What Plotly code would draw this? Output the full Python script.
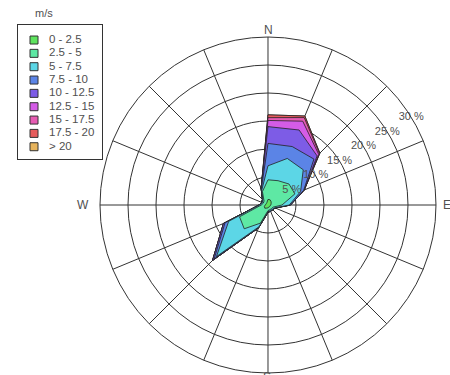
import numpy as np
import plotly.graph_objects as go

# Wind rose: frequency (%) of wind per direction sector, split by speed class (m/s)
DIRECTIONS = ["N", "NNE", "NE", "ENE", "E", "ESE", "SE", "SSE",
              "S", "SSW", "SW", "WSW", "W", "WNW", "NW", "NNW"]
DIR_DEG = [i * 22.5 for i in range(len(DIRECTIONS))]

SPEED_CLASSES = ["0 - 2.5", "2.5 - 5", "5 - 7.5", "7.5 - 10", "10 - 12.5",
                 "12.5 - 15", "15 - 17.5", "17.5 - 20", "> 20"]

FREQ_0_2_5 = [1.0, 1.0, 0.8, 0.6, 0.5, 0.4, 0.4, 0.4, 0.5, 0.6, 0.8, 0.7, 0.5, 0.4, 0.4, 0.5]
FREQ_2_5_5 = [3.5, 3.7, 4.5, 4.6, 2.0, 0.6, 0.5, 0.5, 0.5, 2.9, 5.2, 4.8, 0.7, 0.5, 0.6, 2.1]
FREQ_5_7_5 = [2.5, 4.3, 3.6, 1.1, 1.3, 0.3, 0.2, 0.2, 0.2, 0.7, 7.0, 2.1, 0.3, 0.2, 0.3, 0.3]
FREQ_7_5_10 = [4.0, 2.3, 2.7, 0.6, 0.2, 0.1, 0.1, 0.1, 0.1, 0.2, 0.6, 0.7, 0.1, 0.1, 0.1, 0.2]
FREQ_10_12_5 = [3.0, 3.2, 0.8, 0.1, 0.0, 0.0, 0.0, 0.0, 0.0, 0.0, 0.4, 0.3, 0.0, 0.0, 0.0, 0.1]
FREQ_12_5_15 = [1.1, 1.7, 0.4, 0.0, 0.0, 0.0, 0.0, 0.0, 0.0, 0.0, 0.0, 0.0, 0.0, 0.0, 0.0, 0.0]
FREQ_15_17_5 = [0.5, 0.7, 0.2, 0.0, 0.0, 0.0, 0.0, 0.0, 0.0, 0.0, 0.0, 0.0, 0.0, 0.0, 0.0, 0.0]
FREQ_17_5_20 = [0.5, 0.3, 0.1, 0.0, 0.0, 0.0, 0.0, 0.0, 0.0, 0.0, 0.0, 0.0, 0.0, 0.0, 0.0, 0.0]
FREQ_OVER_20 = [0.0] * 16

RING_VALUES = [5, 10, 15, 20, 25, 30]
RING_LABELS = ["5 %", "10 %", "15 %", "20 %", "25 %", "30 %"]

CARDINALS = ["N", "E", "S", "W"]

COLORS = ["#5ee35e", "#5ee8a4", "#5cd6e6", "#5b84e6", "#7d5ce6",
          "#d45ce6", "#e65cb3", "#e65c5c", "#e6b35c"]

FONT = "Liberation Sans, Arial, sans-serif"
TEXT_COLOR = "#505050"
LINE_COLOR = "#333333"

W_PX, H_PX = 450, 375

freqs = np.array([FREQ_0_2_5, FREQ_2_5_5, FREQ_5_7_5, FREQ_7_5_10, FREQ_10_12_5,
                  FREQ_12_5_15, FREQ_15_17_5, FREQ_17_5_20, FREQ_OVER_20])
cumulative = np.cumsum(freqs, axis=0)

fig = go.Figure()

# stacked polygons, outermost class first so the lower classes sit on top
theta_closed = DIR_DEG + [DIR_DEG[0]]
for k in range(len(SPEED_CLASSES) - 1, -1, -1):
    r = list(cumulative[k]) + [cumulative[k][0]]
    fig.add_trace(go.Scatterpolar(
        r=r, theta=theta_closed, mode="lines", fill="toself",
        fillcolor=COLORS[k], line=dict(color="#222222", width=0.8),
        name=SPEED_CLASSES[k], showlegend=False, hoverinfo="skip",
    ))

# ring percentage labels
fig.add_trace(go.Scatterpolar(
    r=RING_VALUES, theta=[58.5] * len(RING_VALUES), mode="text",
    text=RING_LABELS, textfont=dict(family=FONT, size=11, color=TEXT_COLOR),
    showlegend=False, hoverinfo="skip",
))

# speed-class key drawn on its own small cartesian panel
key_y = -np.arange(len(SPEED_CLASSES))
fig.add_trace(go.Scatter(
    x=[0] * len(SPEED_CLASSES), y=key_y, mode="markers",
    marker=dict(symbol="square", size=8, color=COLORS,
                line=dict(color=LINE_COLOR, width=1)),
    showlegend=False, hoverinfo="skip", xaxis="x", yaxis="y",
))
fig.add_trace(go.Scatter(
    x=[15] * len(SPEED_CLASSES), y=key_y, mode="text", text=SPEED_CLASSES,
    textposition="middle right",
    textfont=dict(family=FONT, size=11.5, color=TEXT_COLOR),
    showlegend=False, hoverinfo="skip", xaxis="x", yaxis="y",
))

# compass letters around the outer ring (pixel anchors)
cardinal_px = {"N": (268, 30), "E": (447, 205), "S": (267, 377), "W": (83, 205)}
annotations = [dict(
    text=c, x=cardinal_px[c][0] / W_PX, y=1 - cardinal_px[c][1] / H_PX,
    xref="paper", yref="paper", xanchor="center", yanchor="middle",
    showarrow=False, font=dict(family=FONT, size=12, color=TEXT_COLOR),
) for c in CARDINALS]
annotations.append(dict(
    text="m/s", x=44 / W_PX, y=1 - 13 / H_PX, xref="paper", yref="paper",
    xanchor="center", yanchor="middle", showarrow=False,
    font=dict(family=FONT, size=11, color=TEXT_COLOR),
))

fig.update_layout(
    width=W_PX, height=H_PX, autosize=False,
    margin=dict(l=0, r=0, t=0, b=0),
    paper_bgcolor="white", plot_bgcolor="white",
    font=dict(family=FONT, color=TEXT_COLOR),
    polar=dict(
        domain=dict(x=[0.2222, 0.9689], y=[0.0053, 0.9013]),
        bgcolor="white",
        angularaxis=dict(
            direction="clockwise", rotation=90,
            tickmode="array", tickvals=DIR_DEG, showticklabels=False,
            ticks="", showgrid=True, gridcolor=LINE_COLOR, gridwidth=1,
            showline=True, linecolor=LINE_COLOR, linewidth=1,
            layer="above traces",
        ),
        radialaxis=dict(
            range=[0, 30], tickmode="array", tickvals=RING_VALUES,
            showticklabels=False, ticks="", showline=False,
            showgrid=True, gridcolor=LINE_COLOR, gridwidth=1,
            layer="above traces",
        ),
    ),
    xaxis=dict(
        domain=[0.04, 0.2267], range=[-16, 68],
        showline=True, mirror=True, linecolor=LINE_COLOR, linewidth=1,
        showgrid=False, zeroline=False, showticklabels=False, ticks="",
        fixedrange=True,
    ),
    yaxis=dict(
        domain=[0.576, 0.9333], range=[-8.92, 1.125],
        showline=True, mirror=True, linecolor=LINE_COLOR, linewidth=1,
        showgrid=False, zeroline=False, showticklabels=False, ticks="",
        fixedrange=True,
    ),
    annotations=annotations,
)

fig.write_html("out.html")
